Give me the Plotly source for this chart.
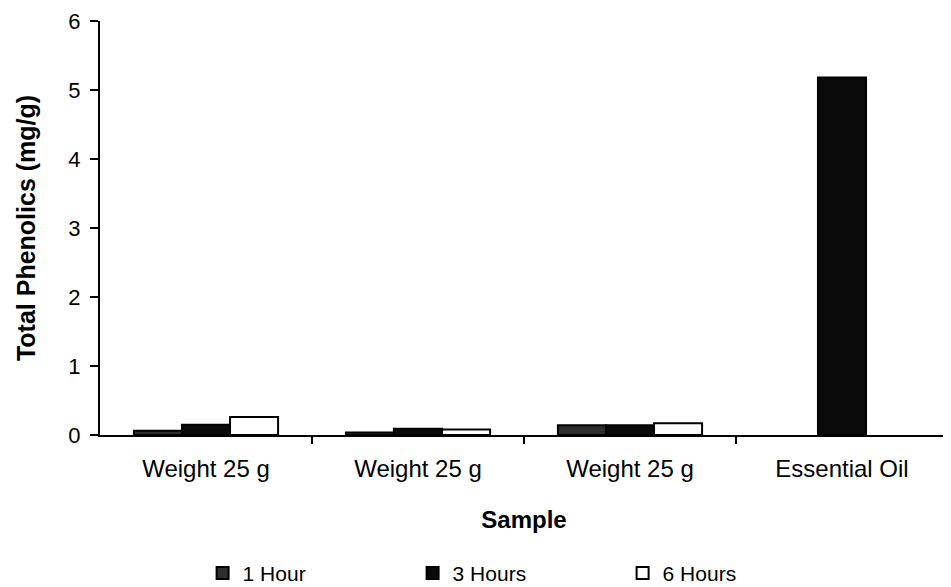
import plotly.graph_objects as go

categories = ["Weight 25 g", "Weight 25 g", "Weight 25 g", "Essential Oil"]
series_names = ["1 Hour", "3 Hours", "6 Hours"]
hour1 = [0.06, 0.035, 0.14, None]
hour3 = [0.15, 0.09, 0.14, 5.18]
hour6 = [0.26, 0.08, 0.17, None]
y_ticks = [0, 1, 2, 3, 4, 5, 6]

positions = list(range(len(categories)))
fills = ["#2e2e2e", "#0a0a0a", "#ffffff"]

fig = go.Figure()
for name, vals, col in zip(series_names, [hour1, hour3, hour6], fills):
    fig.add_trace(go.Bar(
        x=positions, y=vals, name=name,
        marker=dict(color=col, line=dict(color="black", width=2)),
    ))

font_family = "Liberation Sans, Arial, sans-serif"
fig.update_layout(
    width=943, height=579,
    margin=dict(l=92, r=3, t=13, b=152, autoexpand=False),
    paper_bgcolor="white", plot_bgcolor="white",
    barmode="group", bargap=0.32, bargroupgap=0,
    font=dict(family=font_family, size=24, color="black"),
    showlegend=True,
    legend=dict(orientation="h", x=0.121, xanchor="left", y=-0.334, yanchor="middle",
                font=dict(size=21), entrywidth=165, entrywidthmode="pixels",
                traceorder="normal", itemwidth=30),
    xaxis=dict(
        range=[-0.5, len(categories) - 0.5],
        tickmode="array", tickvals=positions, ticktext=categories,
        ticks="", showline=True, linecolor="black", linewidth=2,
        showgrid=False, zeroline=False,
        tickfont=dict(size=24), ticklabelstandoff=11,
        minor=dict(tickmode="array", tickvals=[p + 0.5 for p in positions],
                   ticks="outside", ticklen=7, tickcolor="black", tickwidth=1.5, showgrid=False),
        title=dict(text="<b>Sample</b>", font=dict(size=24), standoff=30),
    ),
    yaxis=dict(
        range=[0, 6], tickmode="array", tickvals=y_ticks,
        ticks="outside", ticklen=8, tickcolor="black", tickwidth=1.5,
        showline=True, linecolor="black", linewidth=2,
        showgrid=False, zeroline=False,
        tickfont=dict(size=22), ticklabelstandoff=5,
        ticklabeloverflow="allow",
        title=dict(text="<b>Total Phenolics (mg/g)</b>", font=dict(size=25), standoff=26),
    ),
)

fig.write_html("out.html")
